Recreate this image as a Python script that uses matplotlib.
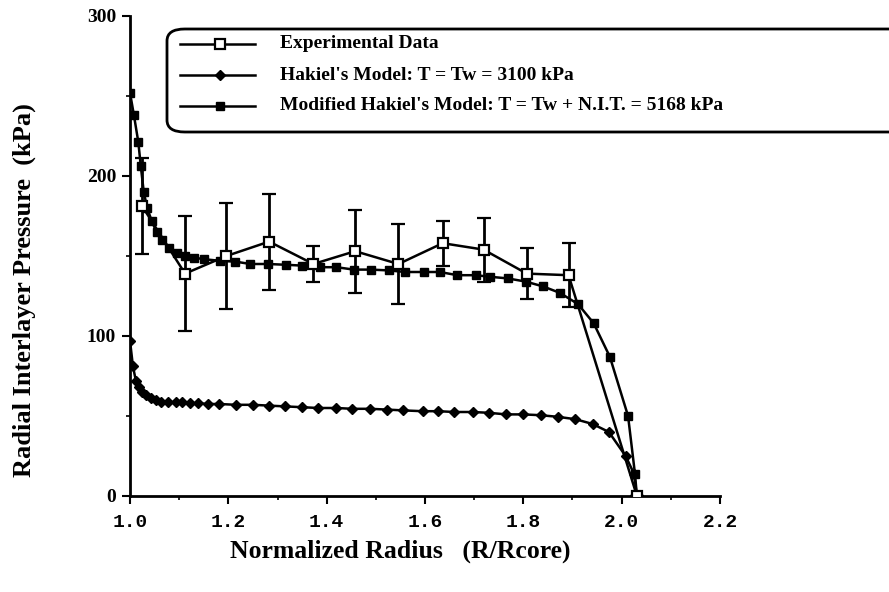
import matplotlib.pyplot as plt
from matplotlib.patches import FancyBboxPatch
from matplotlib.lines import Line2D
from matplotlib.ticker import MultipleLocator

# Experimental data (open squares with error bars)
exp_x = [1.025, 1.112, 1.196, 1.283, 1.373, 1.458, 1.546, 1.636, 1.719, 1.807, 1.892, 2.031]
exp_y = [181, 139, 150, 159, 145, 153, 145, 158, 154, 139, 138, 0]
exp_err = [30, 36, 33, 30, 11, 26, 25, 14, 20, 16, 20, 0]

# Hakiel's model: T = Tw = 3100 kPa
hak_x = [1.000, 1.006, 1.012, 1.018, 1.025, 1.033, 1.042, 1.052, 1.064, 1.078, 1.094, 1.106,
         1.122, 1.138, 1.158, 1.182, 1.215, 1.250, 1.282, 1.316, 1.350, 1.383, 1.420, 1.452,
         1.489, 1.523, 1.556, 1.595, 1.627, 1.660, 1.697, 1.730, 1.765, 1.800, 1.835, 1.870,
         1.906, 1.941, 1.974, 2.008, 2.025, 2.031]
hak_y = [97, 81, 72, 68, 65, 63, 61, 60, 59, 58.5, 58.5, 58.5,
         58, 58, 57.5, 57.5, 57, 57, 56.5, 56, 55.5, 55, 55, 54.5,
         54.5, 54, 53.5, 53, 53, 52.5, 52.5, 52, 51, 51, 50.5, 49.5,
         48, 45, 40, 25, 14, 0]

# Modified Hakiel's model: T = Tw + N.I.T. = 5168 kPa
mod_x = [1.000, 1.008, 1.017, 1.022, 1.028, 1.035, 1.044, 1.054, 1.066, 1.080, 1.096, 1.112,
         1.130, 1.150, 1.183, 1.214, 1.245, 1.281, 1.318, 1.350, 1.387, 1.420, 1.455, 1.490,
         1.526, 1.560, 1.597, 1.630, 1.666, 1.703, 1.733, 1.768, 1.805, 1.840, 1.874, 1.911,
         1.943, 1.976, 2.013, 2.027, 2.031]
mod_y = [252, 238, 221, 206, 190, 180, 172, 165, 160, 155, 152, 150,
         149, 148, 147, 146.5, 145, 145, 144.5, 144, 143, 143, 141.5, 141.5,
         141, 140, 140, 140, 138, 138, 137, 136, 134, 131, 127, 120,
         108, 87, 50, 14, 0]

xticks = [1.0, 1.2, 1.4, 1.6, 1.8, 2.0, 2.2]
xtick_labels = ['1.0', '1.2', '1.4', '1.6', '1.8', '2.0', '2.2']
labels = ["Experimental Data",
          "Hakiel's Model: T = Tw = 3100 kPa",
          "Modified Hakiel's Model: T = Tw + N.I.T. = 5168 kPa"]

serif = ['Liberation Serif', 'DejaVu Serif']
plt.rcParams['font.family'] = serif
plt.rcParams['font.weight'] = 'bold'

fig = plt.figure(figsize=(8.89, 5.92), dpi=100)
ax = fig.add_axes([130 / 889, 1 - 496 / 592, 590 / 889, 480 / 592])

ax.plot(hak_x, hak_y, color='black', lw=1.8, marker='D', ms=5.5, mfc='black', mec='black', zorder=3)
ax.plot(mod_x, mod_y, color='black', lw=1.8, marker='s', ms=6, mfc='black', mec='black', zorder=3)
ax.errorbar(exp_x, exp_y, yerr=exp_err, color='black', lw=1.8, elinewidth=2, capsize=5, capthick=2,
            marker='s', ms=7, mfc='white', mec='black', mew=1.6, zorder=4)

ax.set_xlim(1.0, 2.2)
ax.set_ylim(0, 300)
ax.xaxis.set_minor_locator(MultipleLocator(0.1))
ax.yaxis.set_major_locator(MultipleLocator(100))
ax.yaxis.set_minor_locator(MultipleLocator(50))
ax.set_xticks(xticks)
ax.set_xticklabels(xtick_labels, family=['Liberation Mono', 'DejaVu Sans Mono'], fontsize=14, fontweight='bold')
for s in ['top', 'right']:
    ax.spines[s].set_visible(False)
for s in ['left', 'bottom']:
    ax.spines[s].set_linewidth(2)
ax.tick_params(which='major', direction='out', length=6, width=1.5, pad=4)
ax.tick_params(axis='x', which='major', pad=7)
ax.tick_params(which='minor', direction='out', length=3, width=1.2)
for t in ax.get_yticklabels():
    t.set_fontweight('bold')
    t.set_fontsize(14)

ax.set_xlabel('Normalized Radius   (R/Rcore)', fontsize=18.5, fontweight='bold')
ax.set_ylabel('Radial Interlayer Pressure  (kPa)', fontsize=19, fontweight='bold')
ax.xaxis.set_label_coords(0.458, -0.09)
ax.yaxis.set_label_coords(-0.16, 0.43)

# hand-drawn legend box with rounded corners running off the right edge
box = FancyBboxPatch((167 / 889, 1 - 132 / 592), 760 / 889, 103 / 592,
                     boxstyle='round,pad=0,rounding_size=0.02', transform=fig.transFigure,
                     fc='white', ec='black', lw=2, clip_on=False, zorder=5)
fig.patches.append(box)
rows = [44, 75, 106]
styles = [dict(marker='s', ms=7, mfc='white', mew=1.6),
          dict(marker='D', ms=5.5, mfc='black'),
          dict(marker='s', ms=6, mfc='black')]
for r, st, lab in zip(rows, styles, labels):
    yy = 1 - r / 592
    fig.lines.append(Line2D([180 / 889, 255 / 889], [yy, yy], transform=fig.transFigure,
                            color='black', lw=1.8, zorder=6))
    fig.lines.append(Line2D([220 / 889], [yy], transform=fig.transFigure,
                            color='black', lw=0, mec='black', zorder=7, **st))
    fig.text(280 / 889, yy, lab, fontsize=14, fontweight='bold', va='center', ha='left', zorder=7)

fig.savefig('out.png', dpi=100)
